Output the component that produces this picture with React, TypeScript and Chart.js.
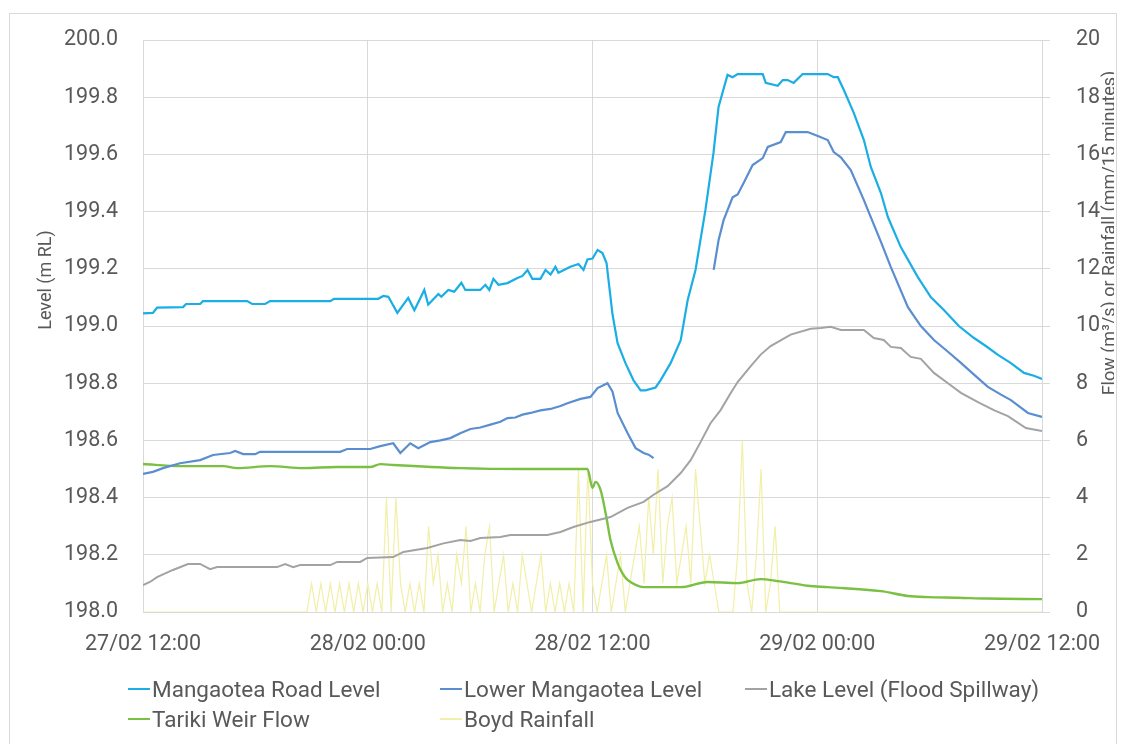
import React, { useEffect, useRef } from "react";
import { Chart, registerables } from "chart.js";

Chart.register(...registerables);

const FONT = "Roboto, 'Open Sans', sans-serif";
const TEXT = "#595959";
const GRID = "#d9d9d9";

const xTickLabels = ["27/02 12:00", "28/02 00:00", "28/02 12:00", "29/02 00:00", "29/02 12:00"];
const leftTitle = "Level (m RL)";
const rightTitle = "Flow (m³/s) or Rainfall (mm/15 minutes)";

const seriesNames = [
  "Mangaotea Road Level",
  "Lower Mangaotea Level",
  "Lake Level (Flood Spillway)",
  "Tariki Weir Flow",
  "Boyd Rainfall",
];
const seriesColors = ["#1AAEE5", "#5A8ED0", "#A3A3A3", "#7BC043", "#F2EFA6"];

// hours since 27/02 12:00
const mangaoteaRoadHours = [0, 0.53, 0.75, 2.14, 2.3, 3.05, 3.2, 5.56, 5.83, 6.52, 6.79, 10.0, 10.2, 12.56, 12.83, 13.1, 13.58, 14.16, 14.49, 15.02, 15.23, 15.77, 15.93, 16.3, 16.62, 17.0, 17.21, 18.01, 18.28, 18.49, 18.71, 18.98, 19.46, 19.99, 20.26, 20.53, 20.79, 21.22, 21.49, 21.76, 22.02, 22.18, 22.82, 23.25, 23.52, 23.73, 24.0, 24.27, 24.53, 24.75, 25.07, 25.34, 25.76, 26.19, 26.57, 26.83, 27.37, 27.63, 28.17, 28.71, 29.08, 29.5, 30.03, 30.46, 30.73, 31.21, 31.48, 31.75, 33.09, 33.25, 33.89, 34.16, 34.42, 34.74, 35.22, 36.56, 36.88, 37.1, 37.42, 37.95, 38.49, 38.86, 39.4, 39.77, 40.46, 41.37, 42.07, 42.76, 43.56, 44.37, 45.0, 45.65, 46.34, 47.04, 47.57, 48.0];
const mangaoteaRoadLevel = [199.044, 199.046, 199.064, 199.066, 199.077, 199.077, 199.087, 199.087, 199.077, 199.077, 199.087, 199.087, 199.095, 199.095, 199.105, 199.102, 199.046, 199.098, 199.055, 199.126, 199.075, 199.112, 199.102, 199.126, 199.12, 199.151, 199.126, 199.126, 199.144, 199.126, 199.165, 199.144, 199.15, 199.168, 199.175, 199.196, 199.165, 199.165, 199.196, 199.18, 199.207, 199.186, 199.207, 199.217, 199.196, 199.233, 199.236, 199.266, 199.255, 199.22, 199.04, 198.94, 198.87, 198.81, 198.775, 198.775, 198.785, 198.81, 198.87, 198.95, 199.09, 199.196, 199.406, 199.605, 199.766, 199.878, 199.87, 199.881, 199.881, 199.85, 199.84, 199.86, 199.86, 199.85, 199.881, 199.881, 199.87, 199.87, 199.825, 199.745, 199.65, 199.556, 199.465, 199.381, 199.276, 199.171, 199.1, 199.056, 199.0, 198.958, 198.93, 198.899, 198.87, 198.836, 198.826, 198.815];

const lowerMangaoteaHours = [0, 0.53, 1.07, 1.98, 3.05, 3.74, 4.65, 4.92, 5.35, 5.99, 6.25, 10.53, 10.9, 12.13, 12.67, 13.36, 13.74, 14.27, 14.7, 15.34, 15.88, 16.41, 16.94, 17.48, 18.01, 18.55, 19.08, 19.46, 19.88, 20.26, 20.69, 21.22, 21.76, 22.29, 22.66, 23.36, 23.89, 24.27, 24.8, 25.07, 25.34, 25.87, 26.3, 26.73, 27.0, 27.26, 28.8, 30.47, 30.73, 31.0, 31.48, 31.75, 32.07, 32.55, 33.09, 33.36, 34.05, 34.32, 35.49, 36.03, 36.56, 36.88, 37.26, 37.79, 38.49, 38.7, 39.4, 39.93, 40.84, 41.53, 42.23, 42.98, 43.67, 44.37, 45.11, 45.81, 46.34, 47.25, 48.0];
const lowerMangaoteaLevel = [198.483, 198.49, 198.503, 198.52, 198.531, 198.549, 198.556, 198.563, 198.552, 198.552, 198.56, 198.56, 198.57, 198.57, 198.58, 198.59, 198.556, 198.59, 198.573, 198.594, 198.6, 198.608, 198.625, 198.64, 198.645, 198.655, 198.665, 198.678, 198.68, 198.69, 198.696, 198.705, 198.71, 198.72, 198.73, 198.745, 198.752, 198.783, 198.8, 198.77, 198.696, 198.626, 198.573, 198.556, 198.55, 198.538, null, 199.196, 199.3, 199.37, 199.45, 199.46, 199.5, 199.563, 199.587, 199.626, 199.643, 199.678, 199.678, 199.664, 199.65, 199.608, 199.59, 199.545, 199.44, 199.406, 199.294, 199.206, 199.066, 199.0, 198.951, 198.91, 198.871, 198.83, 198.787, 198.76, 198.741, 198.696, 198.682];

const lakeHours = [0, 0.37, 0.75, 1.6, 2.4, 3.05, 3.58, 3.96, 7.16, 7.59, 8.02, 8.39, 10.0, 10.37, 11.6, 11.97, 13.36, 13.9, 15.18, 16.04, 16.94, 17.48, 18.01, 19.08, 19.62, 21.59, 22.29, 22.98, 23.89, 24.96, 25.87, 26.73, 27.26, 28.01, 28.71, 29.24, 29.77, 30.3, 30.84, 31.38, 31.75, 32.45, 32.98, 33.51, 34.58, 35.65, 36.19, 36.72, 37.26, 38.49, 39.02, 39.55, 39.93, 40.46, 40.99, 41.53, 42.23, 42.98, 43.67, 44.58, 45.43, 46.18, 47.14, 48.0];
const lakeLevel = [198.094, 198.105, 198.122, 198.147, 198.168, 198.168, 198.15, 198.157, 198.157, 198.168, 198.157, 198.164, 198.164, 198.175, 198.175, 198.189, 198.192, 198.21, 198.224, 198.24, 198.252, 198.248, 198.259, 198.262, 198.269, 198.269, 198.28, 198.297, 198.315, 198.332, 198.364, 198.385, 198.41, 198.44, 198.486, 198.531, 198.594, 198.66, 198.706, 198.766, 198.804, 198.86, 198.9, 198.93, 198.97, 198.99, 198.993, 198.997, 198.986, 198.986, 198.958, 198.951, 198.927, 198.923, 198.892, 198.885, 198.836, 198.8, 198.766, 198.734, 198.706, 198.685, 198.643, 198.633];

const tarikiHours = [0, 1.98, 4.28, 5.03, 6.79, 8.55, 10.35, 12.13, 12.67, 13.36, 16.94, 20.47, 23.73, 24.0, 24.16, 24.43, 24.7, 24.96, 25.34, 25.6, 25.87, 26.3, 26.73, 27.26, 28.71, 30.14, 31.75, 32.98, 33.89, 35.49, 36.56, 39.4, 40.84, 41.91, 43.5, 45.0, 48.0];
const tarikiFlow = [5.175, 5.1, 5.1, 5.03, 5.1, 5.03, 5.07, 5.07, 5.17, 5.14, 5.03, 5.0, 5.0, 4.34, 4.55, 4.27, 3.46, 2.52, 1.71, 1.35, 1.12, 0.95, 0.87, 0.87, 0.87, 1.05, 1.01, 1.15, 1.08, 0.92, 0.87, 0.73, 0.56, 0.52, 0.5, 0.47, 0.45];

// Boyd rainfall, mm per 15 minutes, starting at hour 8.5
const rainStartHour = 8.5;
const rainStepHours = 0.25;
const boydRainfall = [
  0, 0, 1, 0, 1, 0, 1, 0, 1, 0,
  1, 0, 1, 0, 1, 0, 1, 0, 4, 0,
  4, 1, 0, 1, 0, 1, 0, 3, 1, 2,
  0, 1, 0, 2, 1, 3, 0, 1, 0, 2,
  3, 0, 1, 2, 0, 1, 0, 2, 1, 0,
  1, 2, 0, 1, 0, 1, 0, 1, 0, 5,
  0, 5, 1, 0, 1, 2, 0, 1, 2, 0,
  1, 2, 3, 1, 4, 2, 5, 1, 3, 4,
  1, 2, 3, 1, 5, 3, 1, 2, 1, 0,
  0, 0, 0, 2, 6, 1, 0, 2, 5, 0,
  1, 3, 0, 0,
];

const pairs = (hs: number[], vs: (number | null)[]) => hs.map((h, i) => ({ x: h, y: vs[i] }));

const axisTitlesPlugin = {
  id: "axisTitles",
  afterDraw(chart: any) {
    const ctx = chart.ctx;
    ctx.save();
    ctx.fillStyle = TEXT;
    ctx.font = `18px ${FONT}`;
    ctx.textAlign = "center";
    ctx.textBaseline = "middle";
    ctx.save();
    ctx.translate(36, 266);
    ctx.rotate(-Math.PI / 2);
    ctx.fillText(leftTitle, 0, 0);
    ctx.restore();
    ctx.save();
    ctx.translate(1100, 219);
    ctx.rotate(-Math.PI / 2);
    ctx.fillText(rightTitle, 0, 0);
    ctx.restore();
    ctx.restore();
  },
};

export default function App() {
  const ref = useRef<HTMLCanvasElement>(null);

  useEffect(() => {
    if (!ref.current) return;
    const rainData = [
      { x: 0, y: 0 },
      ...boydRainfall.map((v, i) => ({ x: rainStartHour + i * rainStepHours, y: v })),
      { x: 48, y: 0 },
    ];
    const chart = new Chart(ref.current, {
      type: "line",
      data: {
        datasets: [
          { label: seriesNames[0], data: pairs(mangaoteaRoadHours, mangaoteaRoadLevel), borderColor: seriesColors[0], borderWidth: 2.2, yAxisID: "y" },
          { label: seriesNames[1], data: pairs(lowerMangaoteaHours, lowerMangaoteaLevel), borderColor: seriesColors[1], borderWidth: 2.2, yAxisID: "y", spanGaps: false },
          { label: seriesNames[2], data: pairs(lakeHours, lakeLevel), borderColor: seriesColors[2], borderWidth: 2, yAxisID: "y" },
          { label: seriesNames[3], data: pairs(tarikiHours, tarikiFlow), borderColor: seriesColors[3], borderWidth: 2.4, yAxisID: "y1", cubicInterpolationMode: "monotone" },
          { label: seriesNames[4], data: rainData, borderColor: seriesColors[4], borderWidth: 1.2, yAxisID: "y1" },
        ] as any,
      },
      options: {
        animation: false,
        responsive: false,
        devicePixelRatio: 1,
        parsing: false as any,
        elements: { point: { radius: 0, hoverRadius: 0 }, line: { tension: 0, fill: false } },
        layout: { padding: { left: 0, right: 0, top: 26, bottom: 0 } },
        plugins: { legend: { display: false }, tooltip: { enabled: false }, title: { display: false } },
        scales: {
          x: {
            type: "linear",
            min: 0,
            max: 48,
            afterFit: (s: any) => { s.height = 132; s.paddingLeft = 0; s.paddingRight = 0; },
            afterBuildTicks: (s: any) => { s.ticks = xTickLabels.map((_, i) => ({ value: i * 12 })); },
            ticks: {
              autoSkip: false,
              maxRotation: 0,
              padding: 20,
              color: TEXT,
              font: { family: FONT, size: 21.5 },
              callback: (v: any) => xTickLabels[Math.round(Number(v) / 12)] ?? "",
            },
            grid: { color: GRID, lineWidth: 1, drawTicks: false },
            border: { display: true, color: GRID, width: 1 },
          },
          y: {
            position: "left",
            min: 198,
            max: 200,
            afterFit: (s: any) => { s.width = 133; s.paddingTop = 0; s.paddingBottom = 0; },
            ticks: {
              stepSize: 0.2,
              padding: 25,
              color: TEXT,
              font: { family: FONT, size: 21.5 },
              callback: (v: any) => Number(v).toFixed(1),
            },
            grid: { color: GRID, lineWidth: 1, drawTicks: false },
            border: { display: true, color: GRID, width: 1 },
          },
          y1: {
            position: "right",
            min: 0,
            max: 20,
            afterFit: (s: any) => { s.width = 72; s.paddingTop = 0; s.paddingBottom = 0; },
            ticks: {
              stepSize: 2,
              padding: 26,
              color: TEXT,
              font: { family: FONT, size: 21.5 },
            },
            grid: { drawOnChartArea: false, drawTicks: true, tickLength: 8, color: GRID },
            border: { display: true, color: GRID, width: 1 },
          },
        },
      } as any,
      plugins: [axisTitlesPlugin],
    });
    return () => chart.destroy();
  }, []);

  const legendCols = [118, 430, 735];
  const legendRows = [675, 705];
  const legendPos = [
    [0, 0],
    [1, 0],
    [2, 0],
    [0, 1],
    [1, 1],
  ];

  return (
    <div
      style={{
        position: "absolute",
        left: 9,
        top: 13,
        width: 1106,
        height: 730,
        borderTop: `1px solid ${GRID}`,
        borderLeft: `1px solid ${GRID}`,
        borderRight: `1px solid ${GRID}`,
        background: "#fff",
        overflow: "hidden",
      }}
    >
      <canvas ref={ref} width={1104} height={730} style={{ position: "absolute", left: 0, top: 0, width: 1104, height: 730 }} />
      {seriesNames.map((name, i) => (
        <div
          key={name}
          style={{
            position: "absolute",
            left: legendCols[legendPos[i][0]],
            top: legendRows[legendPos[i][1]] - 15,
            height: 30,
            display: "flex",
            alignItems: "center",
            fontFamily: FONT,
            fontSize: 22.5,
            color: TEXT,
            whiteSpace: "nowrap",
          }}
        >
          <span style={{ display: "inline-block", width: 22, height: 2.4, background: seriesColors[i], marginRight: 2 }} />
          <span>{name}</span>
        </div>
      ))}
    </div>
  );
}
